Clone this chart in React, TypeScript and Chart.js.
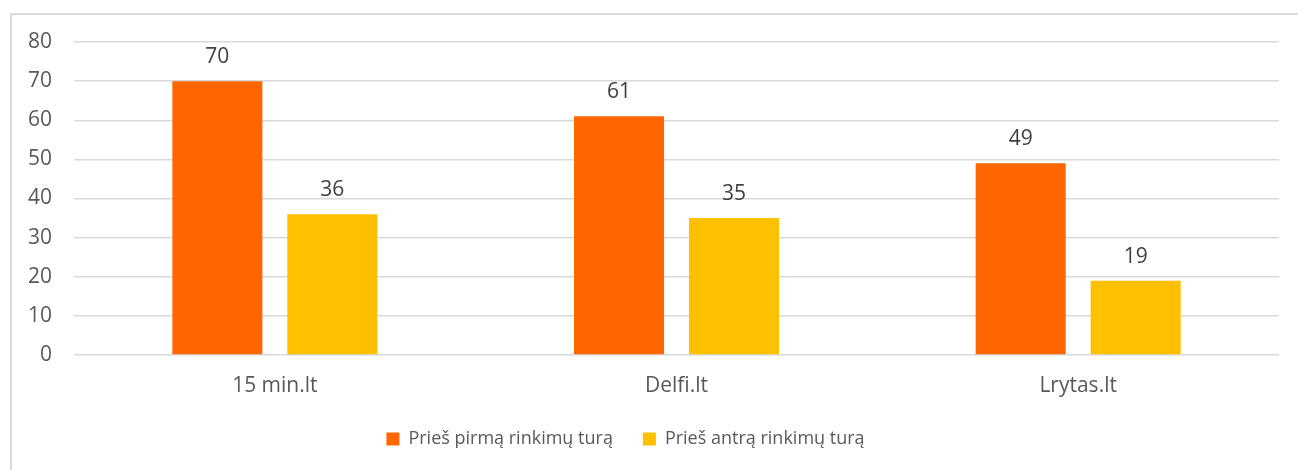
import React, { useEffect, useRef } from "react";
import { Chart, registerables } from "chart.js";

Chart.register(...registerables);

const categories = ["15 min.lt", "Delfi.lt", "Lrytas.lt"];
const seriesNames = ["Prieš pirmą rinkimų turą", "Prieš antrą rinkimų turą"];
const firstRound = [70, 61, 49];
const secondRound = [36, 35, 19];
const seriesColors = ["#FF6600", "#FFC000"];
const yTicksMin = 0;
const yTicksMax = 80;
const yTicksStep = 10;

const FONT = "'Open Sans', 'Noto Sans', sans-serif";

const dataLabels = {
  id: "dataLabels",
  afterLayout(chart: any) {
    if (chart.legend) {
      chart.legend.left -= 14;
      chart.legend.right -= 14;
    }
  },
  afterDatasetsDraw(chart: any) {
    const ctx = chart.ctx;
    ctx.save();
    ctx.font = `21px ${FONT}`;
    ctx.fillStyle = "#404040";
    ctx.textAlign = "center";
    ctx.textBaseline = "alphabetic";
    chart.data.datasets.forEach((ds: any, i: number) => {
      const meta = chart.getDatasetMeta(i);
      meta.data.forEach((bar: any, j: number) => {
        ctx.fillText(String(ds.data[j]), bar.x, bar.y - 18);
      });
    });
    ctx.restore();
  },
};

export default function App() {
  const ref = useRef<HTMLCanvasElement | null>(null);
  useEffect(() => {
    if (!ref.current) return;
    const chart = new Chart(ref.current, {
      type: "bar",
      data: {
        labels: categories,
        datasets: [
          {
            label: seriesNames[0],
            data: firstRound,
            backgroundColor: seriesColors[0],
            categoryPercentage: 0.5725,
            barPercentage: 0.783,
          },
          {
            label: seriesNames[1],
            data: secondRound,
            backgroundColor: seriesColors[1],
            categoryPercentage: 0.5725,
            barPercentage: 0.783,
          },
        ],
      },
      options: {
        animation: false,
        responsive: false,
        maintainAspectRatio: false,
        layout: { padding: { left: 0, right: 19, top: 42, bottom: 12 } },
        plugins: {
          tooltip: { enabled: false },
          legend: {
            position: "bottom",
            labels: {
              boxWidth: 13,
              boxHeight: 13,
              padding: 30,
              color: "#595959",
              font: { family: FONT, size: 18 },
            },
          },
        },
        scales: {
          x: {
            grid: { display: false, drawTicks: false },
            border: { display: false },
            ticks: {
              color: "#595959",
              font: { family: FONT, size: 21 },
              padding: 18,
            },
            afterFit: (scale: any) => {
              scale.height = 45;
            },
          },
          y: {
            min: yTicksMin,
            max: yTicksMax,
            grid: { color: "#d9d9d9", lineWidth: 1.5, drawTicks: false },
            border: { display: false },
            ticks: {
              stepSize: yTicksStep,
              color: "#595959",
              font: { family: FONT, size: 21 },
              padding: 22,
            },
            afterFit: (scale: any) => {
              scale.width = 74;
            },
          },
        },
      },
      plugins: [dataLabels],
    });
    return () => chart.destroy();
  }, []);

  return (
    <div
      style={{
        position: "absolute",
        left: 0,
        top: 0,
        width: 1298,
        height: 470,
        overflow: "hidden",
        background: "#fff",
      }}
    >
      <div
        style={{
          position: "absolute",
          left: 10,
          top: 13,
          width: 1400,
          height: 600,
          border: "2px solid #d9d9d9",
          boxSizing: "border-box",
        }}
      />
      <canvas
        ref={ref}
        width={1298}
        height={470}
        style={{ position: "absolute", left: 0, top: 0, width: 1298, height: 470 }}
      />
    </div>
  );
}
